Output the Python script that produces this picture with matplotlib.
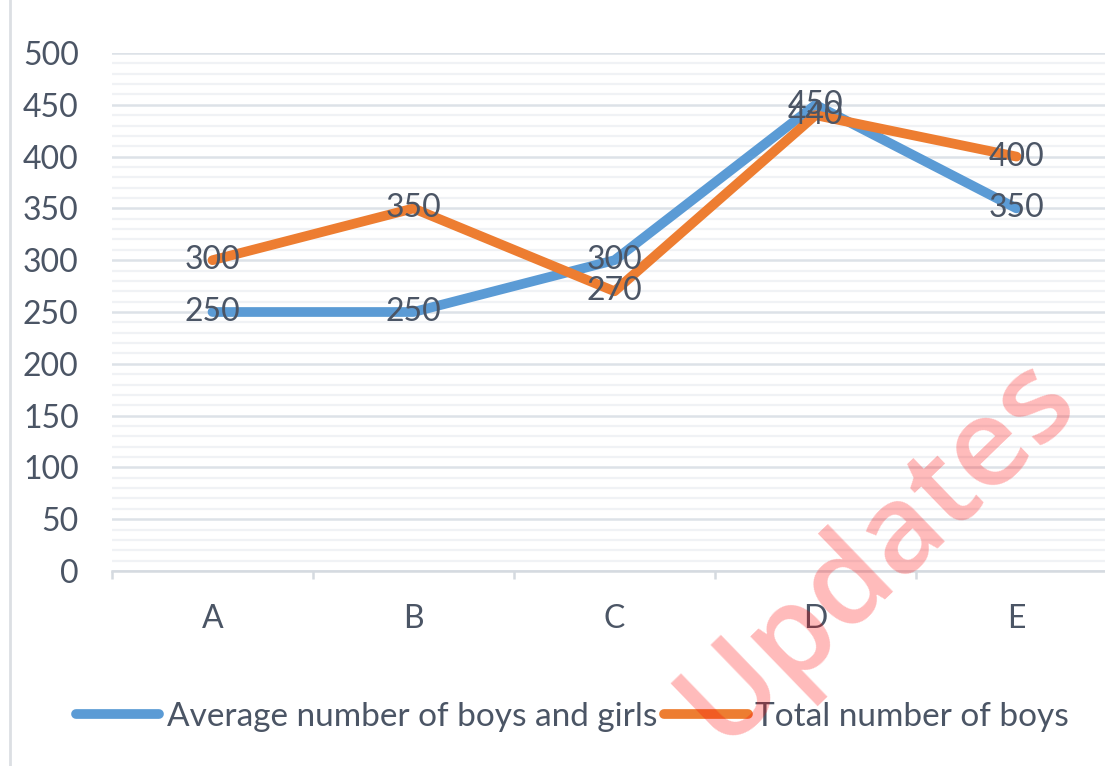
import numpy as np
import matplotlib.pyplot as plt
from matplotlib.lines import Line2D

categories = ['A', 'B', 'C', 'D', 'E']
avg_boys_girls = [250, 250, 300, 450, 350]
total_boys = [300, 350, 270, 440, 400]
series_names = ['Average number of boys and girls', 'Total number of boys']

plt.rcParams['font.family'] = ['Lato', 'DejaVu Sans']
txt_color = '#4b5565'
blue = '#5b9bd5'
orange = '#ed7d31'
fs = 23

fig = plt.figure(figsize=(11.05, 7.66), dpi=100)
ax = fig.add_axes([112/1105, 195/766, 1005/1105, 518/766])

x = np.arange(len(categories))
ax.plot(x, avg_boys_girls, color=blue, lw=7, solid_capstyle='round', solid_joinstyle='round', label=series_names[0], zorder=3)
ax.plot(x, total_boys, color=orange, lw=7, solid_capstyle='round', solid_joinstyle='round', label=series_names[1], zorder=3)

for xi, v in zip(x, avg_boys_girls):
    ax.text(xi, v, str(v), ha='center', va='center', fontsize=fs, color=txt_color, zorder=4)
for xi, v in zip(x, total_boys):
    ax.text(xi, v, str(v), ha='center', va='center', fontsize=fs, color=txt_color, zorder=4)

ax.set_xlim(-0.5, 4.5)
ax.set_ylim(0, 500)
ax.set_yticks(np.arange(0, 501, 50))
ax.set_yticks(np.arange(0, 501, 10), minor=True)
ax.grid(which='minor', axis='y', color='#f0f2f5', lw=1.6)
ax.grid(which='major', axis='y', color='#dde2e8', lw=1.8)
ax.set_axisbelow(True)

ax.set_xticks(x)
ax.set_xticklabels(categories)
ax.set_xticks(np.arange(-0.5, 4.0, 1), minor=True)
ax.tick_params(axis='x', which='major', length=0, pad=24, labelsize=fs, labelcolor=txt_color)
ax.tick_params(axis='x', which='minor', length=6, width=1.8, color='#d5dae0')
ax.tick_params(axis='y', which='both', length=0, pad=24, labelsize=fs, labelcolor=txt_color)

for s in ['top', 'right', 'left']:
    ax.spines[s].set_visible(False)
ax.spines['bottom'].set_color('#d5dae0')
ax.spines['bottom'].set_linewidth(1.8)

fig.legend(loc='center', bbox_to_anchor=(0.518, 1 - 717/766), ncol=2, frameon=False,
           fontsize=24, labelcolor=txt_color, handlelength=2.5, handletextpad=0.22,
           columnspacing=0.22)
for h in fig.legends[0].get_lines():
    h.set_solid_capstyle('round')

# left border of the chart area
fig.add_artist(Line2D([10/1105, 10/1105], [0, 1], transform=fig.transFigure, color='#dcdfe3', lw=2))

# watermark
fig.text(878/1105, 1 - 552/766, 'Updates', rotation=44, ha='center', va='center',
         rotation_mode='anchor', fontsize=89, fontweight='semibold', color='red', alpha=0.27,
         family='Open Sans', zorder=10)

fig.savefig('out.png', dpi=100)
